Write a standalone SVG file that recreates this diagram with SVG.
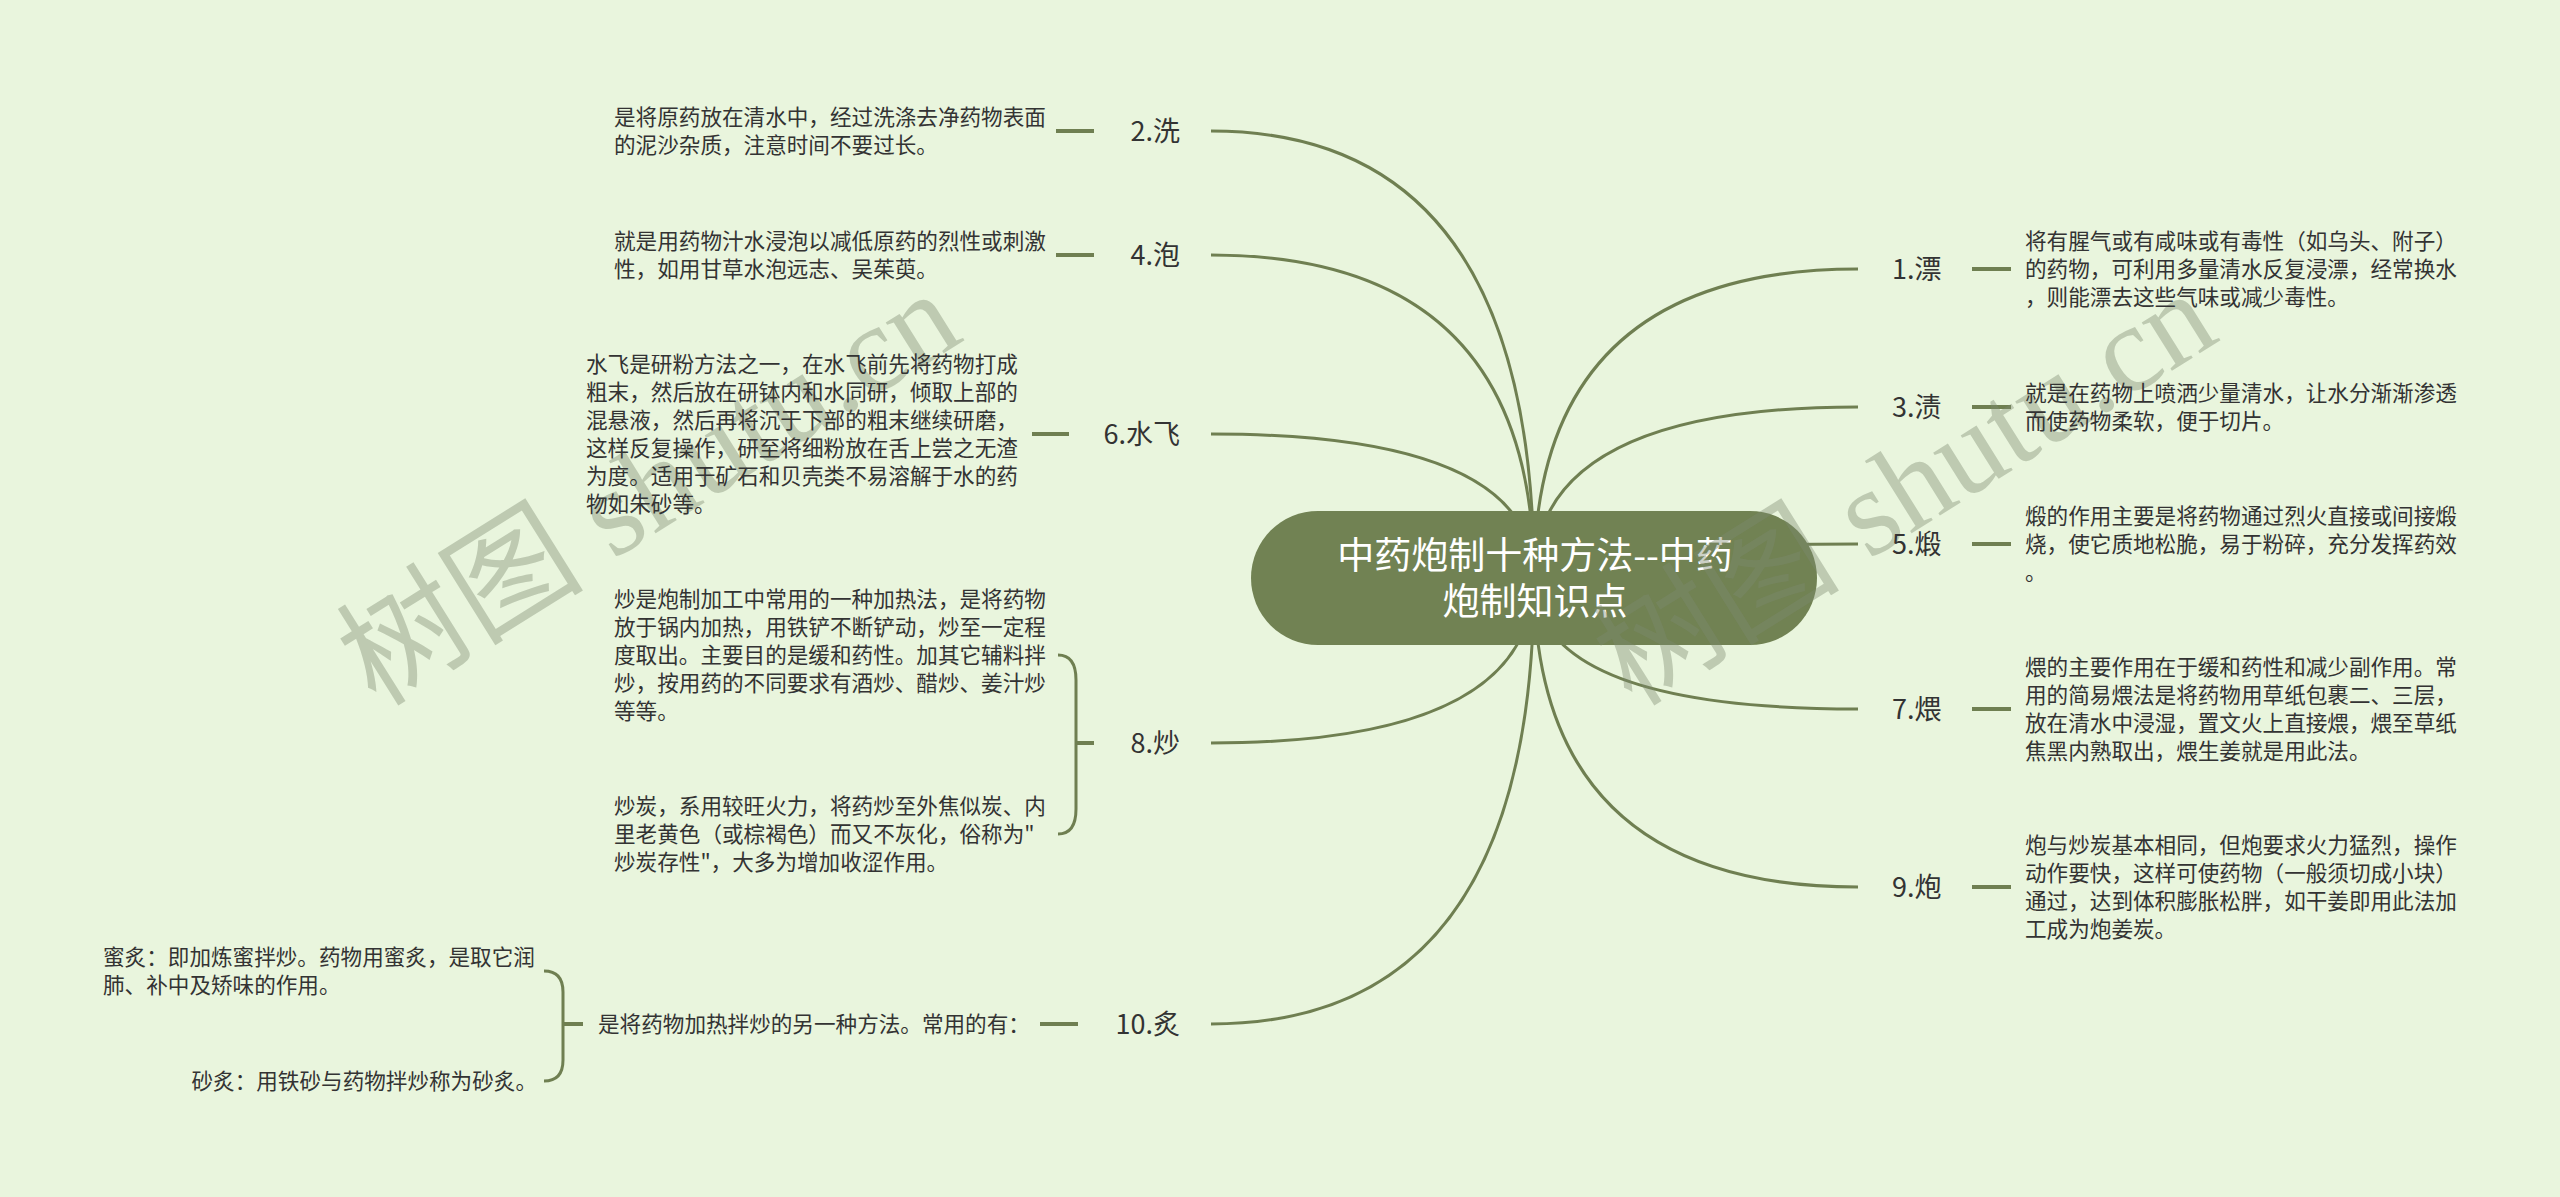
<svg xmlns="http://www.w3.org/2000/svg" width="2560" height="1197" viewBox="0 0 2560 1197">
<style>
.link{fill:none;stroke:#6f7f51;stroke-width:3}
.stub{fill:none;stroke:#6f7f51;stroke-width:4}
.brace{fill:none;stroke:#6f7f51;stroke-width:3}
.lbl{font-family:"Noto Sans CJK SC","Noto Sans",sans-serif;font-size:27px;fill:#333333}
.desc{font-family:"Noto Sans CJK SC","Noto Sans",sans-serif;font-size:21.6px;fill:#333333}
.rootText{font-family:"Noto Sans CJK SC","Noto Sans",sans-serif;font-size:37px;fill:#ffffff}
.wm{font-family:"Liberation Serif","Noto Sans CJK SC",serif;font-size:124px;fill:#7d8a70;fill-opacity:0.4}
</style>
<rect width="2560" height="1197" fill="#e9f5dd"/>
<g id="connectors">
<path class="link" d="M1534 578 Q1534 131 1211 131"/>
<path class="link" d="M1534 578 Q1534 255 1211 255"/>
<path class="link" d="M1534 578 Q1534 434 1211 434"/>
<path class="link" d="M1534 578 Q1534 743 1211 743"/>
<path class="link" d="M1534 578 Q1534 1024 1211 1024"/>
<path class="link" d="M1534 578 Q1534 269 1858 269"/>
<path class="link" d="M1534 578 Q1534 407 1858 407"/>
<path class="link" d="M1534 578 Q1534 544 1858 544"/>
<path class="link" d="M1534 578 Q1534 709 1858 709"/>
<path class="link" d="M1534 578 Q1534 887 1858 887"/>
<path class="stub" d="M1056 131 H1094"/>
<path class="stub" d="M1056 255 H1094"/>
<path class="stub" d="M1032 434 H1069"/>
<path class="brace" d="M1058 655 Q1076 655 1076 680 V809 Q1076 834 1058 834"/>
<path class="stub" d="M1076 743 H1094"/>
<path class="stub" d="M1040 1024 H1078"/>
<path class="brace" d="M544 971 Q563 971 563 992 V1060 Q563 1081 544 1081"/>
<path class="stub" d="M563 1024 H583"/>
<path class="stub" d="M1972 269 H2011"/>
<path class="stub" d="M1972 407 H2011"/>
<path class="stub" d="M1972 544 H2011"/>
<path class="stub" d="M1972 709 H2011"/>
<path class="stub" d="M1972 887 H2011"/>
</g>
<g id="root">
<rect x="1251" y="511" width="566" height="134" rx="67" ry="67" fill="#718253"/>
<text class="rootText" x="1535" y="569" text-anchor="middle">中药炮制十种方法--中药</text>
<text class="rootText" x="1535" y="615" text-anchor="middle">炮制知识点</text>
</g>
<g id="watermark">
<text class="wm" transform="translate(376 708) rotate(-32)">树图 shutu.cn</text>
<text class="wm" transform="translate(1632 708) rotate(-32)">树图 shutu.cn</text>
</g>
<g id="n2">
<text class="lbl" x="1180" y="140.5" text-anchor="end">2.洗</text>
<text class="desc" x="614" y="125">是将原药放在清水中，经过洗涤去净药物表面</text>
<text class="desc" x="614" y="153">的泥沙杂质，注意时间不要过长。</text>
</g>
<g id="n4">
<text class="lbl" x="1180" y="264.5" text-anchor="end">4.泡</text>
<text class="desc" x="614" y="249">就是用药物汁水浸泡以减低原药的烈性或刺激</text>
<text class="desc" x="614" y="277">性，如用甘草水泡远志、吴茱萸。</text>
</g>
<g id="n6">
<text class="lbl" x="1180" y="443.5" text-anchor="end">6.水飞</text>
<text class="desc" x="586" y="372">水飞是研粉方法之一，在水飞前先将药物打成</text>
<text class="desc" x="586" y="400">粗末，然后放在研钵内和水同研，倾取上部的</text>
<text class="desc" x="586" y="428">混悬液，然后再将沉于下部的粗末继续研磨，</text>
<text class="desc" x="586" y="456">这样反复操作，研至将细粉放在舌上尝之无渣</text>
<text class="desc" x="586" y="484">为度。适用于矿石和贝壳类不易溶解于水的药</text>
<text class="desc" x="586" y="512">物如朱砂等。</text>
</g>
<g id="n8">
<text class="lbl" x="1180" y="752.5" text-anchor="end">8.炒</text>
<text class="desc" x="614" y="607">炒是炮制加工中常用的一种加热法，是将药物</text>
<text class="desc" x="614" y="635">放于锅内加热，用铁铲不断铲动，炒至一定程</text>
<text class="desc" x="614" y="663">度取出。主要目的是缓和药性。加其它辅料拌</text>
<text class="desc" x="614" y="691">炒，按用药的不同要求有酒炒、醋炒、姜汁炒</text>
<text class="desc" x="614" y="719">等等。</text>
<text class="desc" x="614" y="814">炒炭，系用较旺火力，将药炒至外焦似炭、内</text>
<text class="desc" x="614" y="842">里老黄色（或棕褐色）而又不灰化，俗称为"</text>
<text class="desc" x="614" y="870">炒炭存性"，大多为增加收涩作用。</text>
</g>
<g id="n10">
<text class="lbl" x="1180" y="1033.5" text-anchor="end">10.炙</text>
<text class="desc" x="598" y="1032">是将药物加热拌炒的另一种方法。常用的有：</text>
<text class="desc" x="103" y="965">蜜炙：即加炼蜜拌炒。药物用蜜炙，是取它润</text>
<text class="desc" x="103" y="993">肺、补中及矫味的作用。</text>
<text class="desc" x="537" y="1089" text-anchor="end">砂炙：用铁砂与药物拌炒称为砂炙。</text>
</g>
<g id="n1">
<text class="lbl" x="1892" y="278.5">1.漂</text>
<text class="desc" x="2025" y="249">将有腥气或有咸味或有毒性（如乌头、附子）</text>
<text class="desc" x="2025" y="277">的药物，可利用多量清水反复浸漂，经常换水</text>
<text class="desc" x="2025" y="305">，则能漂去这些气味或减少毒性。</text>
</g>
<g id="n3">
<text class="lbl" x="1892" y="416.5">3.渍</text>
<text class="desc" x="2025" y="401">就是在药物上喷洒少量清水，让水分渐渐渗透</text>
<text class="desc" x="2025" y="429">而使药物柔软，便于切片。</text>
</g>
<g id="n5">
<text class="lbl" x="1892" y="553.5">5.煅</text>
<text class="desc" x="2025" y="524">煅的作用主要是将药物通过烈火直接或间接煅</text>
<text class="desc" x="2025" y="552">烧，使它质地松脆，易于粉碎，充分发挥药效</text>
<text class="desc" x="2025" y="580">。</text>
</g>
<g id="n7">
<text class="lbl" x="1892" y="718.5">7.煨</text>
<text class="desc" x="2025" y="675">煨的主要作用在于缓和药性和减少副作用。常</text>
<text class="desc" x="2025" y="703">用的简易煨法是将药物用草纸包裹二、三层，</text>
<text class="desc" x="2025" y="731">放在清水中浸湿，置文火上直接煨，煨至草纸</text>
<text class="desc" x="2025" y="759">焦黑内熟取出，煨生姜就是用此法。</text>
</g>
<g id="n9">
<text class="lbl" x="1892" y="896.5">9.炮</text>
<text class="desc" x="2025" y="853">炮与炒炭基本相同，但炮要求火力猛烈，操作</text>
<text class="desc" x="2025" y="881">动作要快，这样可使药物（一般须切成小块）</text>
<text class="desc" x="2025" y="909">通过，达到体积膨胀松胖，如干姜即用此法加</text>
<text class="desc" x="2025" y="937">工成为炮姜炭。</text>
</g>
</svg>
